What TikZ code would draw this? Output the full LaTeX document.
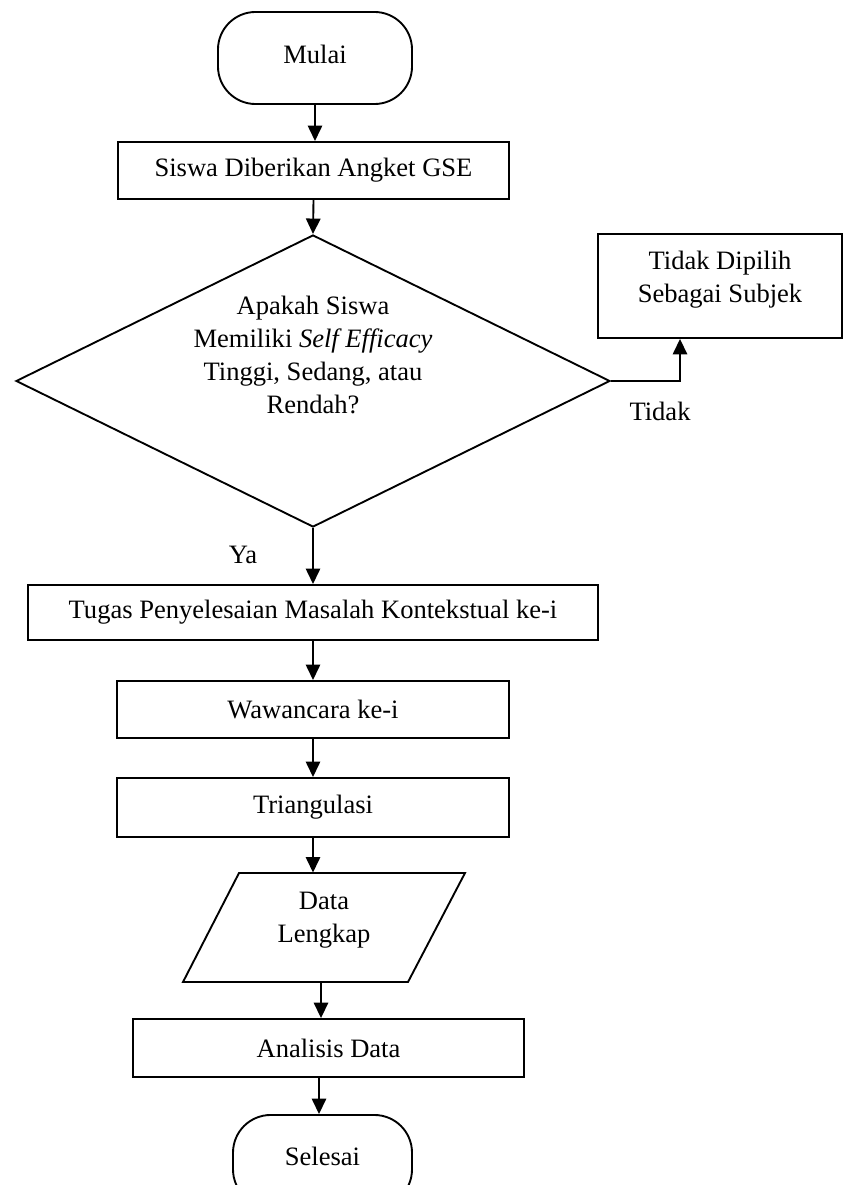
\documentclass[tikz,border=0pt]{standalone}
\usepackage{fontspec}
\setmainfont{Liberation Serif}
\usetikzlibrary{arrows.meta,calc,shapes.geometric}
\begin{document}
\begin{tikzpicture}[x=0.452pt,y=-0.452pt,
  every node/.style={font=\fontsize{12pt}{15pt}\selectfont},
  proc/.style={draw, line width=0.85pt, rectangle, inner sep=0pt},
  term/.style={draw, line width=0.85pt, rounded corners=17pt, inner sep=0pt},
  decis/.style={draw, line width=0.85pt, diamond, inner sep=0pt},
  txt/.style={align=center, inner sep=0pt},
  arr/.style={line width=0.85pt, -{Triangle[length=7pt,width=6.5pt]}},
  lbl/.style={inner sep=0pt}]
\useasboundingbox (0,0) rectangle (844,1185);
\clip (0,0) rectangle (844,1185);

% shapes
\node[term, minimum width=87.7pt, minimum height=41.6pt] (start) at (315,58) {};
\node[txt] (starttxt) at (315,54) {Mulai};

\node[proc, minimum width=176.7pt, minimum height=25.8pt] (b1) at (313.5,170.5) {Siswa Diberikan Angket GSE};

\node[decis, minimum width=268.5pt, minimum height=132pt] (dec) at (313,381) {};
\node[txt] (dectxt) at (313,355) {Apakah Siswa\\Memiliki \textit{Self Efficacy}\\Tinggi, Sedang, atau\\Rendah?};

\node[proc, minimum width=110.3pt, minimum height=47pt] (tb) at (720,286) {};
\node[txt] (tbtxt) at (720,280) {Tidak Dipilih\\Sebagai Subjek};

\node[proc, minimum width=257.6pt, minimum height=24.9pt] (tugas) at (313,612.5) {Tugas Penyelesaian Masalah Kontekstual ke-i};
\node[proc, minimum width=177.2pt, minimum height=25.8pt] (waw) at (313,709.5) {Wawancara ke-i};
\node[proc, minimum width=177.2pt, minimum height=26.7pt] (tri) at (313,807.5) {Triangulasi};

\draw[line width=0.85pt] (239,873) -- (465,873) -- (408,982) -- (183,982) -- cycle;
\node[inner sep=0pt, minimum width=100pt, minimum height=49.3pt] (para) at (321,927.5) {};
\node[txt] (paratxt) at (324,920) {Data\\Lengkap};

\node[proc, minimum width=176.7pt, minimum height=26.2pt] (ana) at (328.5,1048) {Analisis Data};

\node[term, minimum width=80.9pt, minimum height=41.6pt] (sel) at (322.5,1161) {};
\node[txt] (seltxt) at (322.5,1156) {Selesai};

% labels
\node[lbl] (ya) at (243,555) {Ya};
\node[lbl] (tidak) at (660,411) {Tidak};

% connectors
\draw[arr] (start.south) -- (start.south |- b1.north);
\draw[arr] (b1.south) -- (dec.north);
\draw[arr] (dec.east) -| ($(tb.south)+(-40,0)$);
\draw[arr] (dec.south) -- (dec.south |- tugas.north);
\draw[arr] (tugas.south) -- (waw.north);
\draw[arr] (waw.south) -- (tri.north);
\draw[arr] (tri.south) -- (tri.south |- para.north);
\draw[arr] (para.south) -- (para.south |- ana.north);
\draw[arr] ([xshift=-3.5*0.452pt]sel.north |- ana.south) -- ([xshift=-3.5*0.452pt]sel.north);
\end{tikzpicture}
\end{document}
